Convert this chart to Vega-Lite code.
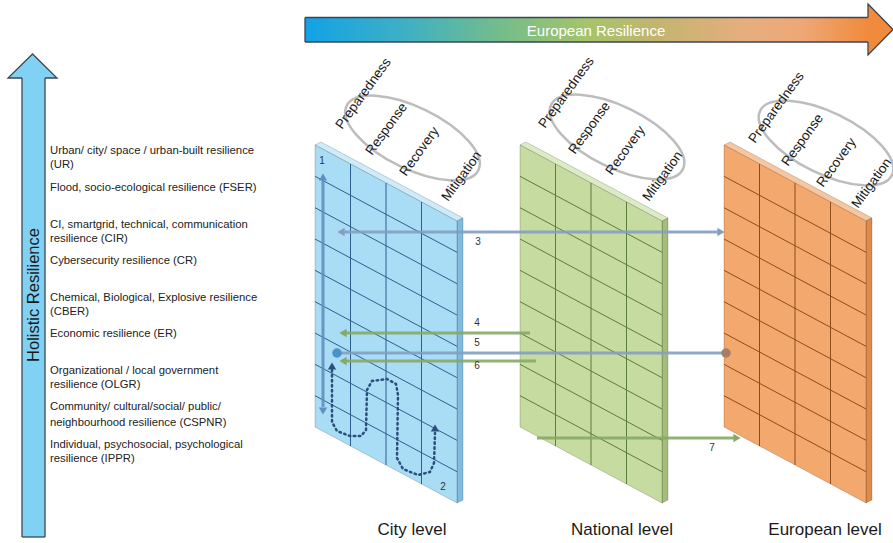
{
  "$schema": "https://vega.github.io/schema/vega-lite/v6.json",
  "width": 893,
  "height": 543,
  "autosize": {"type": "none"},
  "padding": 0,
  "background": "white",
  "config": {"view": {"stroke": null}, "text": {"font": "Liberation Sans"}},
  "datasets": {
    "topshaft": [{"x": 305, "x2": 869, "y": 17.5, "y2": 42}],
    "tophead": [{"x": 868, "y": 4, "y2": 55}, {"x": 893, "y": 29.5, "y2": 29.5}],
    "leftshaft": [{"x": 22, "x2": 45, "y": 76, "y2": 537}],
    "lefthead": [{"y": 54, "x": 32.5, "x2": 32.5}, {"y": 78, "x": 8, "x2": 57}],
    "outlines": [
      {"x": 305, "y": 17.5, "x2": 868, "y2": 17.5},
      {"x": 305, "y": 42, "x2": 868, "y2": 42},
      {"x": 305, "y": 17.5, "x2": 305, "y2": 42},
      {"x": 22, "y": 78, "x2": 22, "y2": 537},
      {"x": 45, "y": 78, "x2": 45, "y2": 537},
      {"x": 22, "y": 537, "x2": 45, "y2": 537}
    ],
    "toptitle": [{"text": "European Resilience", "x": 596, "y": 31}],
    "lefttitle": [{"text": "Holistic Resilience", "x": 34, "y": 295}],
    "resil": [
      {"text": "Urban/ city/ space / urban-built resilience", "x": 50, "y": 151},
      {"text": "(UR)", "x": 50, "y": 165},
      {"text": "Flood, socio-ecological resilience (FSER)", "x": 50, "y": 188},
      {"text": "CI, smartgrid, technical, communication", "x": 50, "y": 225},
      {"text": "resilience (CIR)", "x": 50, "y": 239},
      {"text": "Cybersecurity resilience (CR)", "x": 50, "y": 261},
      {"text": "Chemical, Biological, Explosive resilience", "x": 50, "y": 298},
      {"text": "(CBER)", "x": 50, "y": 312},
      {"text": "Economic resilience (ER)", "x": 50, "y": 334},
      {"text": "Organizational  / local government", "x": 50, "y": 371},
      {"text": "resilience (OLGR)", "x": 50, "y": 385},
      {"text": "Community/ cultural/social/ public/", "x": 50, "y": 407},
      {"text": "neighbourhood resilience (CSPNR)", "x": 50, "y": 423},
      {"text": "Individual, psychosocial, psychological", "x": 50, "y": 445},
      {"text": "resilience (IPPR)", "x": 50, "y": 459}
    ],
    "faces": [
      {"face": "city-top", "x": 315, "y": 145, "y2": 145},
      {"face": "city-top", "x": 321, "y": 142, "y2": 148.2},
      {"face": "city-top", "x": 457, "y": 214.8, "y2": 221},
      {"face": "city-top", "x": 463, "y": 218, "y2": 218},
      {"face": "city-side", "x": 457, "y": 221, "y2": 503},
      {"face": "city-side", "x": 463, "y": 218, "y2": 500},
      {"face": "city-front", "x": 315, "y": 145, "y2": 427},
      {"face": "city-front", "x": 457, "y": 221, "y2": 503},
      {"face": "national-top", "x": 520, "y": 145, "y2": 145},
      {"face": "national-top", "x": 526, "y": 142, "y2": 148.2},
      {"face": "national-top", "x": 662, "y": 214.8, "y2": 221},
      {"face": "national-top", "x": 668, "y": 218, "y2": 218},
      {"face": "national-side", "x": 662, "y": 221, "y2": 503},
      {"face": "national-side", "x": 668, "y": 218, "y2": 500},
      {"face": "national-front", "x": 520, "y": 145, "y2": 427},
      {"face": "national-front", "x": 662, "y": 221, "y2": 503},
      {"face": "european-top", "x": 724, "y": 145, "y2": 145},
      {"face": "european-top", "x": 730, "y": 142, "y2": 148.2},
      {"face": "european-top", "x": 866, "y": 214.8, "y2": 221},
      {"face": "european-top", "x": 872, "y": 218, "y2": 218},
      {"face": "european-side", "x": 866, "y": 221, "y2": 503},
      {"face": "european-side", "x": 872, "y": 218, "y2": 500},
      {"face": "european-front", "x": 724, "y": 145, "y2": 427},
      {"face": "european-front", "x": 866, "y": 221, "y2": 503}
    ],
    "grid": [
      {"g": "city", "x": 315, "y": 176.3, "x2": 457, "y2": 252.3},
      {"g": "city", "x": 315, "y": 207.7, "x2": 457, "y2": 283.7},
      {"g": "city", "x": 315, "y": 239.0, "x2": 457, "y2": 315.0},
      {"g": "city", "x": 315, "y": 270.3, "x2": 457, "y2": 346.3},
      {"g": "city", "x": 315, "y": 301.7, "x2": 457, "y2": 377.7},
      {"g": "city", "x": 315, "y": 333.0, "x2": 457, "y2": 409.0},
      {"g": "city", "x": 315, "y": 364.3, "x2": 457, "y2": 440.3},
      {"g": "city", "x": 315, "y": 395.7, "x2": 457, "y2": 471.7},
      {"g": "city", "x": 350.5, "y": 164.0, "x2": 350.5, "y2": 446.0},
      {"g": "city", "x": 386, "y": 183.0, "x2": 386, "y2": 465.0},
      {"g": "city", "x": 421.5, "y": 202.0, "x2": 421.5, "y2": 484.0},
      {"g": "national", "x": 520, "y": 176.3, "x2": 662, "y2": 252.3},
      {"g": "national", "x": 520, "y": 207.7, "x2": 662, "y2": 283.7},
      {"g": "national", "x": 520, "y": 239.0, "x2": 662, "y2": 315.0},
      {"g": "national", "x": 520, "y": 270.3, "x2": 662, "y2": 346.3},
      {"g": "national", "x": 520, "y": 301.7, "x2": 662, "y2": 377.7},
      {"g": "national", "x": 520, "y": 333.0, "x2": 662, "y2": 409.0},
      {"g": "national", "x": 520, "y": 364.3, "x2": 662, "y2": 440.3},
      {"g": "national", "x": 520, "y": 395.7, "x2": 662, "y2": 471.7},
      {"g": "national", "x": 555.5, "y": 164.0, "x2": 555.5, "y2": 446.0},
      {"g": "national", "x": 591, "y": 183.0, "x2": 591, "y2": 465.0},
      {"g": "national", "x": 626.5, "y": 202.0, "x2": 626.5, "y2": 484.0},
      {"g": "european", "x": 724, "y": 176.3, "x2": 866, "y2": 252.3},
      {"g": "european", "x": 724, "y": 207.7, "x2": 866, "y2": 283.7},
      {"g": "european", "x": 724, "y": 239.0, "x2": 866, "y2": 315.0},
      {"g": "european", "x": 724, "y": 270.3, "x2": 866, "y2": 346.3},
      {"g": "european", "x": 724, "y": 301.7, "x2": 866, "y2": 377.7},
      {"g": "european", "x": 724, "y": 333.0, "x2": 866, "y2": 409.0},
      {"g": "european", "x": 724, "y": 364.3, "x2": 866, "y2": 440.3},
      {"g": "european", "x": 724, "y": 395.7, "x2": 866, "y2": 471.7},
      {"g": "european", "x": 759.5, "y": 164.0, "x2": 759.5, "y2": 446.0},
      {"g": "european", "x": 795, "y": 183.0, "x2": 795, "y2": 465.0},
      {"g": "european", "x": 830.5, "y": 202.0, "x2": 830.5, "y2": 484.0}
    ],
    "ellipses": [{"x": 412.5, "y": 138}, {"x": 617, "y": 137}, {"x": 826, "y": 143}],
    "phases": [
      {"text": "Preparedness", "x": 342, "y": 130},
      {"text": "Response", "x": 372, "y": 156},
      {"text": "Recovery", "x": 406, "y": 177},
      {"text": "Mitigation", "x": 448, "y": 202},
      {"text": "Preparedness", "x": 545, "y": 129},
      {"text": "Response", "x": 575, "y": 155},
      {"text": "Recovery", "x": 612, "y": 176},
      {"text": "Mitigation", "x": 649, "y": 202},
      {"text": "Preparedness", "x": 755, "y": 144},
      {"text": "Response", "x": 788, "y": 167},
      {"text": "Recovery", "x": 823, "y": 188},
      {"text": "Mitigation", "x": 858, "y": 209}
    ],
    "links": [
      {"kind": "link-blue", "x": 342, "y": 232, "x2": 720, "y2": 232},
      {"kind": "link-green", "x": 345, "y": 333, "x2": 530, "y2": 333},
      {"kind": "link-blue", "x": 337, "y": 353, "x2": 726, "y2": 353},
      {"kind": "link-green", "x": 345, "y": 361, "x2": 536, "y2": 361},
      {"kind": "link-green", "x": 537, "y": 438, "x2": 734, "y2": 438},
      {"kind": "axis-blue", "x": 323, "y": 181, "x2": 323, "y2": 407}
    ],
    "heads": [
      {"kind": "link-blue", "dir": "left", "x": 341, "y": 232},
      {"kind": "link-blue", "dir": "right", "x": 721, "y": 232},
      {"kind": "link-green", "dir": "left", "x": 343, "y": 333},
      {"kind": "link-green", "dir": "left", "x": 343, "y": 361},
      {"kind": "link-green", "dir": "right", "x": 737, "y": 438},
      {"kind": "axis-blue", "dir": "up", "x": 323, "y": 177},
      {"kind": "axis-blue", "dir": "down", "x": 323, "y": 411},
      {"kind": "dotted", "dir": "up", "x": 332, "y": 366},
      {"kind": "dotted", "dir": "up", "x": 435, "y": 428}
    ],
    "dots": [
      {"kind": "dot-blue", "x": 337, "y": 353},
      {"kind": "dot-brown", "x": 726, "y": 353}
    ],
    "dotted": [
      {"seq": 1, "x": 332, "y": 370},
      {"seq": 2, "x": 332, "y": 422},
      {"seq": 3, "x": 337, "y": 431},
      {"seq": 4, "x": 350, "y": 436},
      {"seq": 5, "x": 361, "y": 436},
      {"seq": 6, "x": 366, "y": 430},
      {"seq": 7, "x": 367, "y": 390},
      {"seq": 8, "x": 372, "y": 381},
      {"seq": 9, "x": 387, "y": 379},
      {"seq": 10, "x": 396, "y": 384},
      {"seq": 11, "x": 398, "y": 395},
      {"seq": 12, "x": 397, "y": 458},
      {"seq": 13, "x": 403, "y": 469},
      {"seq": 14, "x": 418, "y": 475},
      {"seq": 15, "x": 430, "y": 472},
      {"seq": 16, "x": 434, "y": 463},
      {"seq": 17, "x": 435, "y": 433}
    ],
    "nums": [
      {"text": "1", "x": 322, "y": 161},
      {"text": "2", "x": 443, "y": 487},
      {"text": "3", "x": 478, "y": 242},
      {"text": "4", "x": 477, "y": 323},
      {"text": "5", "x": 477, "y": 343},
      {"text": "6", "x": 477, "y": 366},
      {"text": "7", "x": 712, "y": 448}
    ],
    "levels": [
      {"text": "City level", "x": 412, "y": 530},
      {"text": "National level", "x": 622, "y": 530},
      {"text": "European level", "x": 825, "y": 530}
    ]
  },
  "encoding": {
    "x": {"field": "x", "type": "quantitative", "scale": {"domain": [0, 893], "nice": false, "zero": false}, "axis": null},
    "y": {"field": "y", "type": "quantitative", "scale": {"domain": [0, 543], "reverse": true, "nice": false, "zero": false}, "axis": null}
  },
  "resolve": {"scale": {"color": "independent", "shape": "independent"}},
  "layer": [
    {
      "data": {"name": "tophead"},
      "mark": {"type": "area", "orient": "vertical", "color": "#F08A3C", "stroke": "#3B4654", "strokeWidth": 1.3},
      "encoding": {"y": {"field": "y", "type": "quantitative", "stack": null}, "y2": {"field": "y2"}}
    },
    {
      "data": {"name": "topshaft"},
      "mark": {
        "type": "rect",
        "color": {
          "gradient": "linear", "x1": 0, "y1": 0, "x2": 1, "y2": 0,
          "stops": [
            {"offset": 0, "color": "#12A2E6"},
            {"offset": 0.18, "color": "#3FB0C4"},
            {"offset": 0.34, "color": "#72BC8C"},
            {"offset": 0.5, "color": "#A6C46A"},
            {"offset": 0.62, "color": "#C2B56E"},
            {"offset": 0.78, "color": "#E6AE7E"},
            {"offset": 0.88, "color": "#EEA877"},
            {"offset": 1, "color": "#F08A3C"}
          ]
        }
      },
      "encoding": {"x2": {"field": "x2"}, "y2": {"field": "y2"}}
    },
    {
      "data": {"name": "lefthead"},
      "mark": {"type": "area", "orient": "horizontal", "color": "#80D2F4", "stroke": "#3B4654", "strokeWidth": 1.3},
      "encoding": {"x": {"field": "x", "type": "quantitative", "stack": null}, "x2": {"field": "x2"}}
    },
    {
      "data": {"name": "leftshaft"},
      "mark": {"type": "rect", "color": "#80D2F4"},
      "encoding": {"x2": {"field": "x2"}, "y2": {"field": "y2"}}
    },
    {
      "data": {"name": "outlines"},
      "mark": {"type": "rule", "color": "#3B4654", "strokeWidth": 1.3},
      "encoding": {"x2": {"field": "x2"}, "y2": {"field": "y2"}}
    },
    {
      "data": {"name": "toptitle"},
      "mark": {"type": "text", "color": "white", "fontSize": 15, "align": "center", "baseline": "middle"},
      "encoding": {"text": {"field": "text"}}
    },
    {
      "data": {"name": "lefttitle"},
      "mark": {"type": "text", "color": "#1A1A1A", "fontSize": 16.5, "angle": -90, "align": "center", "baseline": "middle"},
      "encoding": {"text": {"field": "text"}}
    },
    {
      "data": {"name": "resil"},
      "mark": {"type": "text", "color": "#222222", "fontSize": 11.3, "align": "left", "baseline": "middle"},
      "encoding": {"text": {"field": "text"}}
    },
    {
      "data": {"name": "faces"},
      "mark": {"type": "area", "orient": "vertical", "stroke": "#000000", "strokeOpacity": 0.22, "strokeWidth": 0.8, "opacity": 1},
      "encoding": {
        "y": {"field": "y", "type": "quantitative", "stack": null},
        "y2": {"field": "y2"},
        "color": {
          "field": "face", "type": "nominal", "legend": null,
          "scale": {
            "domain": ["city-front", "city-side", "city-top", "national-front", "national-side", "national-top", "european-front", "european-side", "european-top"],
            "range": ["#A9DCF5", "#7FBCE0", "#CDEBFA", "#C5DBA0", "#A2BE78", "#DCEBC4", "#F3A86D", "#DE8A4C", "#F8C69E"]
          }
        }
      }
    },
    {
      "data": {"name": "grid"},
      "mark": {"type": "rule", "strokeWidth": 1},
      "encoding": {
        "x2": {"field": "x2"}, "y2": {"field": "y2"},
        "color": {"field": "g", "type": "nominal", "legend": null,
          "scale": {"domain": ["city", "national", "european"], "range": ["#2D5F8E", "#5C7C3A", "#8E4C1E"]}}
      }
    },
    {
      "data": {"name": "ellipses"},
      "mark": {"type": "point", "shape": "M -1 0 A 1 0.42 0 1 1 1 0 A 1 0.42 0 1 1 -1 0 Z", "size": 21500, "angle": 26, "filled": false, "stroke": "#BDBDBD", "strokeWidth": 2.5, "opacity": 1}
    },
    {
      "data": {"name": "phases"},
      "mark": {"type": "text", "color": "#1A1A1A", "fontSize": 13.5, "angle": -54, "align": "left", "baseline": "alphabetic"},
      "encoding": {"text": {"field": "text"}}
    },
    {
      "data": {"name": "links"},
      "mark": {"type": "rule", "strokeWidth": 3, "opacity": 0.9},
      "encoding": {
        "x2": {"field": "x2"}, "y2": {"field": "y2"},
        "color": {"field": "kind", "type": "nominal", "legend": null,
          "scale": {"domain": ["link-blue", "link-green", "axis-blue"], "range": ["#849FC0", "#86A966", "#5E8FC2"]}}
      }
    },
    {
      "data": {"name": "heads"},
      "mark": {"type": "point", "filled": true, "opacity": 1, "size": 70},
      "encoding": {
        "shape": {"field": "dir", "type": "nominal", "legend": null,
          "scale": {"domain": ["left", "right", "up", "down"], "range": ["triangle-left", "triangle-right", "triangle-up", "triangle-down"]}},
        "color": {"field": "kind", "type": "nominal", "legend": null,
          "scale": {"domain": ["link-blue", "link-green", "axis-blue", "dotted"], "range": ["#849FC0", "#86A966", "#5E8FC2", "#2C4E7C"]}}
      }
    },
    {
      "data": {"name": "dots"},
      "mark": {"type": "circle", "opacity": 1, "size": 90},
      "encoding": {
        "color": {"field": "kind", "type": "nominal", "legend": null,
          "scale": {"domain": ["dot-blue", "dot-brown"], "range": ["#4B91CB", "#A67F66"]}}
      }
    },
    {
      "data": {"name": "dotted"},
      "mark": {"type": "line", "color": "#2C4E7C", "strokeWidth": 2.5, "strokeDash": [1.5, 3.5], "strokeCap": "round"},
      "encoding": {"order": {"field": "seq", "type": "quantitative"}}
    },
    {
      "data": {"name": "nums"},
      "mark": {"type": "text", "color": "#333333", "fontSize": 10, "align": "center", "baseline": "middle"},
      "encoding": {"text": {"field": "text"}}
    },
    {
      "data": {"name": "levels"},
      "mark": {"type": "text", "color": "#1A1A1A", "fontSize": 17, "align": "center", "baseline": "middle"},
      "encoding": {"text": {"field": "text"}}
    }
  ]
}
